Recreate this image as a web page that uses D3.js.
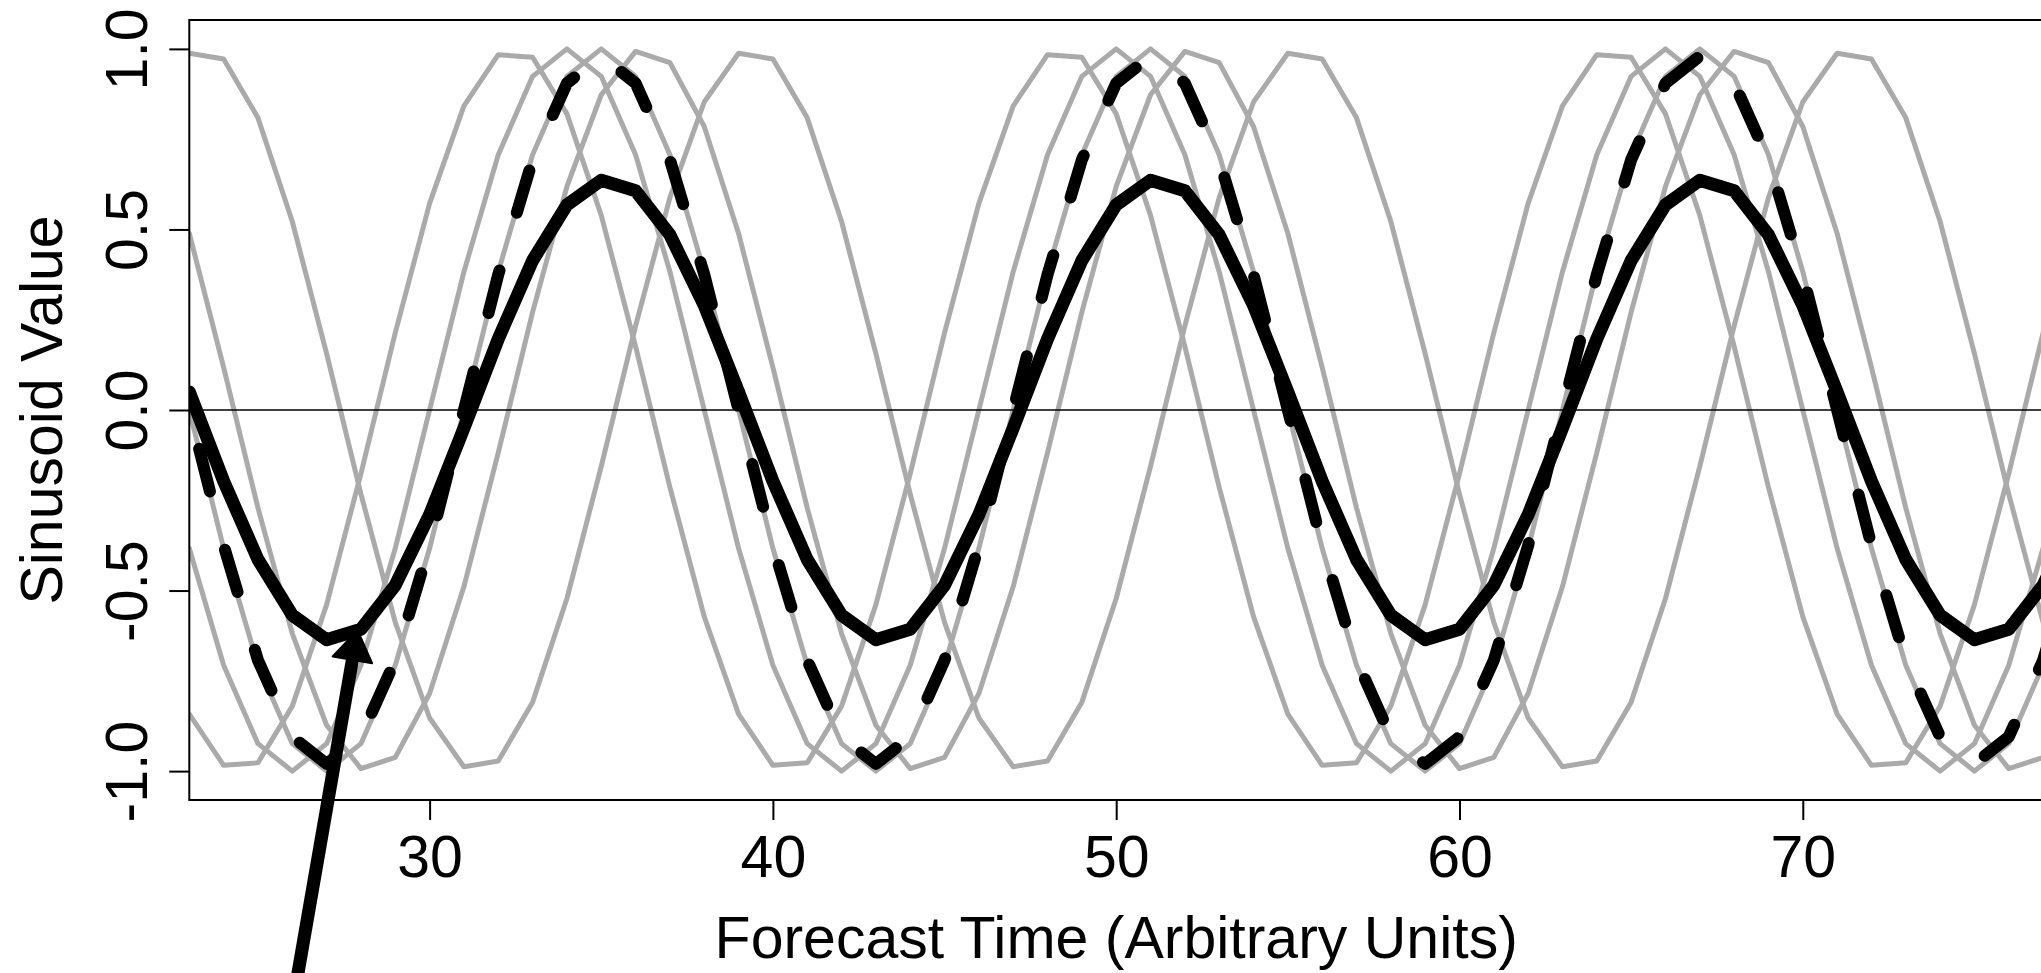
<!DOCTYPE html>
<html><head><meta charset="utf-8">
<script src="https://cdn.jsdelivr.net/npm/d3@7"></script>
<style>html,body{margin:0;padding:0;background:#fff;overflow:hidden}</style>
</head><body><svg id="c" width="2041" height="973"></svg>
<script>
// ---- data ----
const times = [23,24,25,26,27,28,29,30,31,32,33,34,35,36,37,38,39,40,41,42,43,44,45,46,47,48,49,50,51,52,53,54,55,56,57,58,59,60,61,62,63,64,65,66,67,68,69,70,71,72,73,74,75,76,77,78];
const member1 = [0.988,0.972,0.809,0.522,0.156,-0.233,-0.588,-0.853,-0.988,
 -0.972,-0.809,-0.522,-0.156,0.233,0.588,0.853,0.988,0.972,0.809,0.522,0.156,-0.233,-0.588,-0.853,-0.988,
 -0.972,-0.809,-0.522,-0.156,0.233,0.588,0.853,0.988,0.972,0.809,0.522,0.156,-0.233,-0.588,-0.853,-0.988,
 -0.972,-0.809,-0.522,-0.156,0.233,0.588,0.853,0.988,0.972,0.809,0.522,0.156,-0.233,-0.588,-0.853];
const member2 = [-0.842,-0.984,-0.977,-0.820,-0.539,-0.176,0.214,0.572,0.842,
 0.984,0.977,0.820,0.539,0.176,-0.214,-0.572,-0.842,-0.984,-0.977,-0.820,-0.539,-0.176,0.214,0.572,0.842,
 0.984,0.977,0.820,0.539,0.176,-0.214,-0.572,-0.842,-0.984,-0.977,-0.820,-0.539,-0.176,0.214,0.572,0.842,
 0.984,0.977,0.820,0.539,0.176,-0.214,-0.572,-0.842,-0.984,-0.977,-0.820,-0.539,-0.176,0.214,0.572];
const member3 = [-0.383,-0.707,-0.924,-1,-0.924,-0.707,-0.383,0,0.383,
 0.707,0.924,1,0.924,0.707,0.383,0,-0.383,-0.707,-0.924,-1,-0.924,-0.707,-0.383,0,0.383,
 0.707,0.924,1,0.924,0.707,0.383,0,-0.383,-0.707,-0.924,-1,-0.924,-0.707,-0.383,0,0.383,
 0.707,0.924,1,0.924,0.707,0.383,0,-0.383,-0.707,-0.924,-1,-0.924,-0.707,-0.383,0];
const member4 = [0,-0.383,-0.707,-0.924,-1,-0.924,-0.707,-0.383,0,
 0.383,0.707,0.924,1,0.924,0.707,0.383,0,-0.383,-0.707,-0.924,-1,-0.924,-0.707,-0.383,0,
 0.383,0.707,0.924,1,0.924,0.707,0.383,0,-0.383,-0.707,-0.924,-1,-0.924,-0.707,-0.383,0,
 0.383,0.707,0.924,1,0.924,0.707,0.383,0,-0.383,-0.707,-0.924,-1,-0.924,-0.707,-0.383];
const member5 = [0.489,0.118,-0.271,-0.619,-0.873,-0.993,-0.962,-0.785,-0.489,
 -0.118,0.271,0.619,0.873,0.993,0.962,0.785,0.489,0.118,-0.271,-0.619,-0.873,-0.993,-0.962,-0.785,-0.489,
 -0.118,0.271,0.619,0.873,0.993,0.962,0.785,0.489,0.118,-0.271,-0.619,-0.873,-0.993,-0.962,-0.785,-0.489,
 -0.118,0.271,0.619,0.873,0.993,0.962,0.785,0.489,0.118,-0.271,-0.619,-0.873,-0.993,-0.962,-0.785];
const observed = [0,-0.375,-0.693,-0.905,-0.98,-0.905,-0.693,-0.375,0,
 0.375,0.693,0.905,0.98,0.905,0.693,0.375,0,-0.375,-0.693,-0.905,-0.98,-0.905,-0.693,-0.375,0,
 0.375,0.693,0.905,0.98,0.905,0.693,0.375,0,-0.375,-0.693,-0.905,-0.98,-0.905,-0.693,-0.375,0,
 0.375,0.693,0.905,0.98,0.905,0.693,0.375,0,-0.375,-0.693,-0.905,-0.98,-0.905,-0.693,-0.375];
const ensembleMean = [0.050,-0.197,-0.414,-0.568,-0.636,-0.607,-0.485,-0.290,-0.050,
 0.197,0.414,0.568,0.636,0.607,0.485,0.290,0.050,-0.197,-0.414,-0.568,-0.636,-0.607,-0.485,-0.290,-0.050,
 0.197,0.414,0.568,0.636,0.607,0.485,0.290,0.050,-0.197,-0.414,-0.568,-0.636,-0.607,-0.485,-0.290,-0.050,
 0.197,0.414,0.568,0.636,0.607,0.485,0.290,0.050,-0.197,-0.414,-0.568,-0.636,-0.607,-0.485,-0.290];
const xTicks = [30,40,50,60,70];
const yTicks = [-1.0,-0.5,0.0,0.5,1.0];
const xTitle = "Forecast Time (Arbitrary Units)";
const yTitle = "Sinusoid Value";
const arrowTail = [26.0,-1.65];
const arrowTip = [27.9,-0.61];

// ---- layout ----
const FONT = "'Liberation Sans', Arial, sans-serif";
const FS = 59;
const plot = {left:189.3, right:2043.1, top:20, bottom:800};
const svg = d3.select("#c");
svg.append("rect").attr("width",2041).attr("height",973).attr("fill","#fff");
const x = d3.scaleLinear().domain([23,77]).range([plot.left, plot.right]);
const y = d3.scaleLinear().domain([-1.08,1.08]).range([plot.bottom, plot.top]);

svg.append("clipPath").attr("id","clip").append("rect")
  .attr("x",plot.left).attr("y",plot.top)
  .attr("width",plot.right-plot.left).attr("height",plot.bottom-plot.top);

const g = svg.append("g").attr("clip-path","url(#clip)");
const line = vals => d3.line().x((d,i)=>x(times[i])).y(d=>y(d))(vals);

[member1,member2,member3,member4,member5].forEach(m=>{
  g.append("path").attr("d",line(m)).attr("fill","none")
   .attr("stroke","#aaaaaa").attr("stroke-width",5)
   .attr("stroke-linejoin","round").attr("stroke-linecap","round");
});
// zero line
g.append("line").attr("x1",plot.left).attr("x2",plot.right)
  .attr("y1",y(0)).attr("y2",y(0)).attr("stroke","#000").attr("stroke-width",1.7);
// observed (dashed)
g.append("path").attr("d",line(observed)).attr("fill","none")
  .attr("stroke","#000").attr("stroke-width",12)
  .attr("stroke-dasharray","44,60.3").attr("stroke-dashoffset",64.3)
  .attr("stroke-linejoin","round").attr("stroke-linecap","round");
// ensemble mean
g.append("path").attr("d",line(ensembleMean)).attr("fill","none")
  .attr("stroke","#000").attr("stroke-width",13)
  .attr("stroke-linejoin","round").attr("stroke-linecap","round");

// box
svg.append("rect").attr("x",plot.left).attr("y",plot.top)
  .attr("width",plot.right-plot.left).attr("height",plot.bottom-plot.top)
  .attr("fill","none").attr("stroke","#000").attr("stroke-width",2);

// axes
const xAxis = svg.append("g").attr("transform",`translate(0,${plot.bottom})`)
  .call(d3.axisBottom(x).tickValues(xTicks).tickSize(20).tickFormat(d3.format("d")));
xAxis.select(".domain").remove();
xAxis.attr("font-family",FONT);
xAxis.selectAll("line").attr("stroke","#000").attr("stroke-width",2);
xAxis.selectAll("text").attr("y",77).attr("dy",null)
  .attr("font-family",FONT).attr("font-size",FS).attr("fill","#000");

const yAxis = svg.append("g").attr("transform",`translate(${plot.left},0)`)
  .call(d3.axisLeft(y).tickValues(yTicks).tickSize(20).tickFormat(d3.format(".1f")));
yAxis.select(".domain").remove();
yAxis.attr("font-family",FONT);
yAxis.selectAll("line").attr("stroke","#000").attr("stroke-width",2);
yAxis.selectAll("text").attr("x",null).attr("dy",null)
  .attr("transform",`translate(${147-plot.left},0) rotate(-90)`)
  .attr("text-anchor","middle")
  .attr("font-family",FONT).attr("font-size",FS).attr("fill","#000")
  .text(d=>d3.format(".1f")(d).replace("\u2212","-"));

// titles
svg.append("text").attr("x",(plot.left+plot.right)/2).attr("y",958)
  .attr("text-anchor","middle").attr("font-family",FONT).attr("font-size",FS)
  .text(xTitle);
svg.append("text").attr("transform",`translate(62,${(plot.top+plot.bottom)/2}) rotate(-90)`)
  .attr("text-anchor","middle").attr("font-family",FONT).attr("font-size",FS)
  .text(yTitle);

// arrow
const tx = x(arrowTip[0]), ty = y(arrowTip[1]);
const sx = x(arrowTail[0]), sy = y(arrowTail[1]);
const L = Math.hypot(tx-sx, ty-sy);
const ux = (tx-sx)/L, uy = (ty-sy)/L, nx = -uy, ny = ux;
const headLen = 30, headHalf = 20;
const bx = tx-headLen*ux, by = ty-headLen*uy;
svg.append("line").attr("x1",sx).attr("y1",sy).attr("x2",bx+4*ux).attr("y2",by+4*uy)
  .attr("stroke","#000").attr("stroke-width",13);
svg.append("path")
  .attr("d",`M${tx},${ty}L${bx+headHalf*nx},${by+headHalf*ny}L${bx-headHalf*nx},${by-headHalf*ny}Z`)
  .attr("fill","#000").attr("stroke","#000").attr("stroke-width",2).attr("stroke-linejoin","round");
</script></body></html>
